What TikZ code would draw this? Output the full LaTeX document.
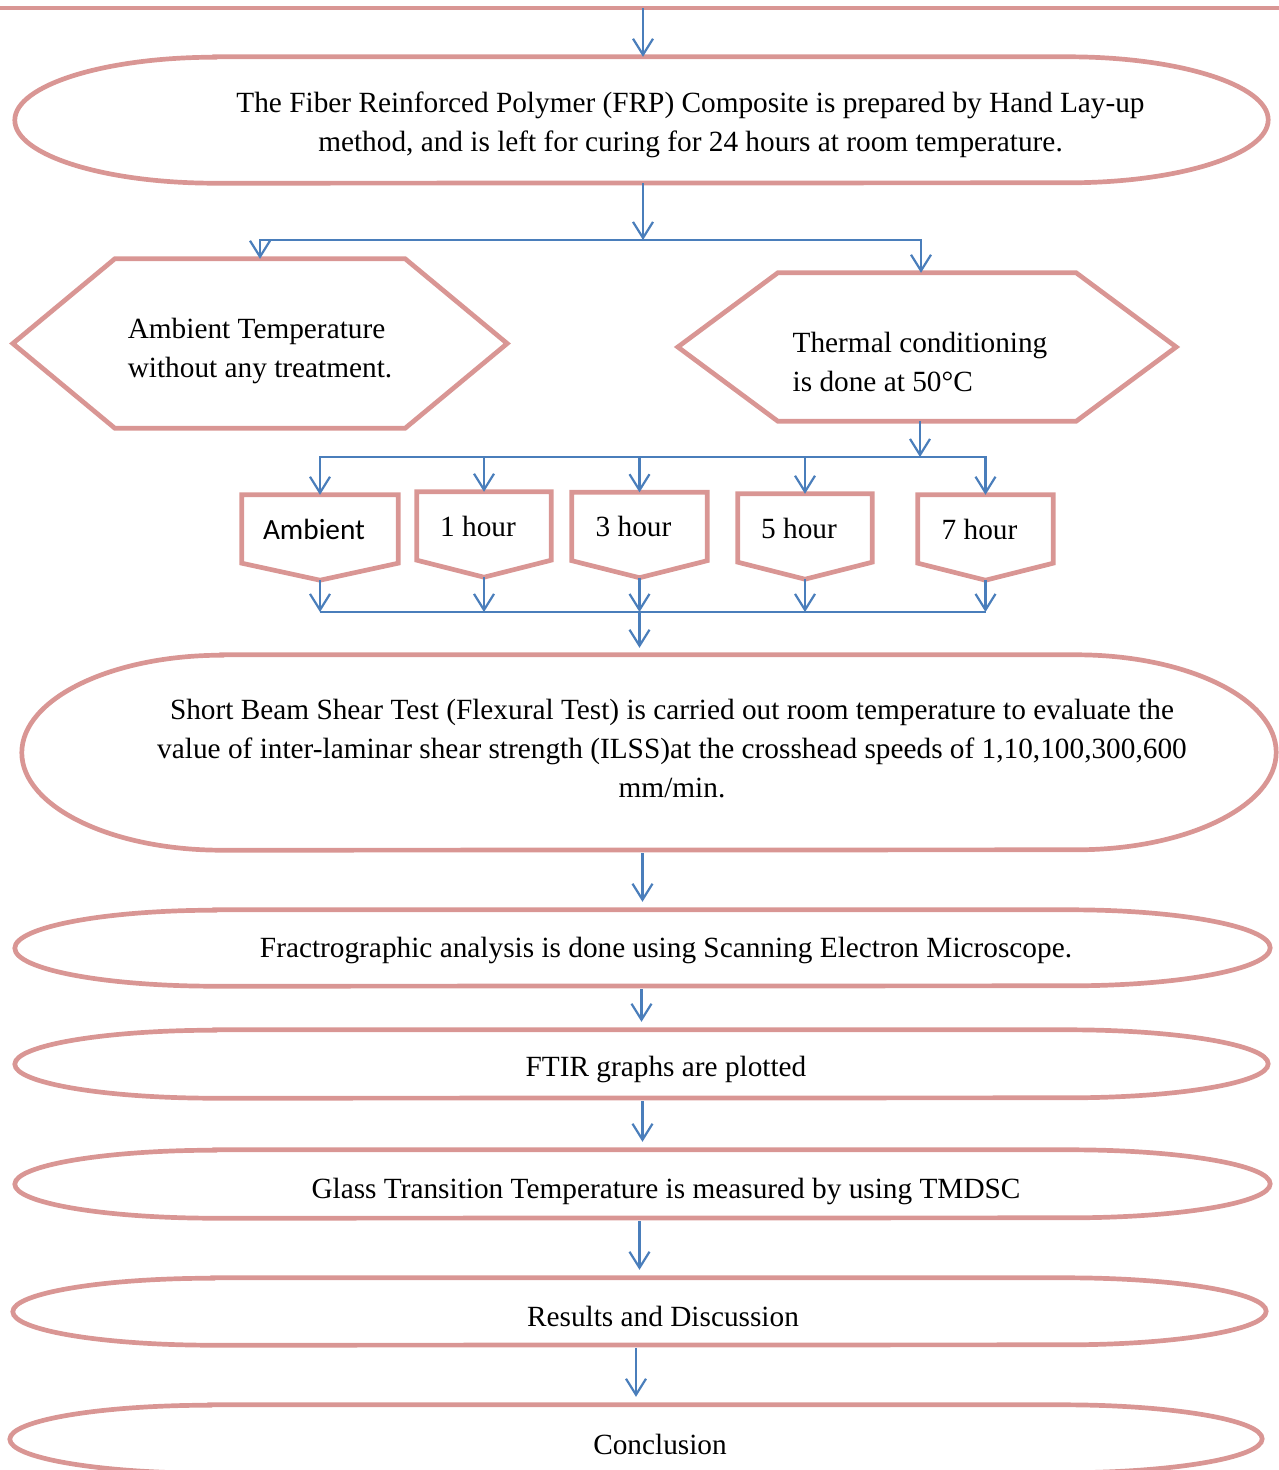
\documentclass[tikz,border=0pt]{standalone}
\usepackage{fontspec}
\setmainfont{Liberation Serif}
\newfontfamily\calibri{Carlito}
\usetikzlibrary{arrows.meta, positioning, calc}
\definecolor{framepink}{RGB}{217,150,148}
\definecolor{linkblue}{RGB}{74,126,187}

% outlines drawn round the named nodes
\newcommand{\termframe}[2]{%
  \draw[frame] ([xshift=200pt]#1.north west) -- ([xshift=-200pt]#1.north east)
    arc[start angle=90, end angle=-90, x radius=200pt, y radius=#2pt]
    -- ([xshift=200pt]#1.south west)
    arc[start angle=270, end angle=90, x radius=200pt, y radius=#2pt] -- cycle;}
\newcommand{\hexframe}[2]{%
  \draw[frame] (#1.west) -- ([xshift=#2pt]#1.north west) -- ([xshift=-#2pt]#1.north east)
    -- (#1.east) -- ([xshift=-#2pt]#1.south east) -- ([xshift=#2pt]#1.south west) -- cycle;}
\newcommand{\tagframe}[1]{%
  \draw[frame] (#1.north west) -- (#1.north east) -- (#1.south east)
    -- ([yshift=-17pt]#1.south) -- (#1.south west) -- cycle;}

\begin{document}
\begin{tikzpicture}[
      x=1pt, y=1pt,
      every node/.style={font=\fontsize{29.3}{39}\selectfont, inner sep=0pt},
      frame/.style={draw=framepink, line width=4.7pt},
      term/.style={minimum width=1253pt},
      tagbox/.style={minimum height=68pt, execute at begin node={\hspace*{-12pt}}},
      txt/.style={align=center},
      hextxt/.style={align=left},
      line/.style={draw=linkblue, line width=2.2pt, -{Straight Barb[length=16pt, width=20pt]}},
      wire/.style={draw=linkblue, line width=2.2pt}
  ]
      \useasboundingbox (0,0) rectangle (1279,-1470);

      % Top: edge of the step before
      \coordinate (prev) at (643,-8);
      \draw[frame] (-10,-8) -- (1290,-8);

      % Preparation
      \node [term, minimum height=126pt] (frp) at (641.5,-120) {};
      \node [txt] (frptxt) at (690.5,-124.5) {The Fiber Reinforced Polymer (FRP) Composite is prepared by Hand Lay-up\\method, and is left for curing for 24 hours at room temperature.};
      \termframe{frp}{63}

      % Conditioning
      \node [minimum width=494pt, minimum height=169pt] (amb) at (260,-343.5) {};
      \node [hextxt] (ambtxt) at (260,-350.5) {Ambient Temperature\\without any treatment.};
      \node [minimum width=498pt, minimum height=148pt] (therm) at (927,-347) {};
      \node [hextxt] (thermtxt) at (920,-362) {Thermal conditioning\\is done at 50°C};
      \hexframe{amb}{102}
      \hexframe{therm}{100}

      % Durations
      \node [tagbox, minimum width=156pt, font=\calibri\fontsize{29.3}{39}\selectfont] (t0) at (320,-529) {Ambient};
      \node [tagbox, minimum width=134pt] (t1) at (484,-526) {1 hour};
      \node [tagbox, minimum width=135pt] (t3) at (639.5,-526.5) {3 hour};
      \node [tagbox, minimum width=134pt] (t5) at (805,-528) {5 hour};
      \node [tagbox, minimum width=135pt] (t7) at (985.5,-529) {7 hour};
      \foreach \n in {t0,t1,t3,t5,t7} \tagframe{\n};

      % Tests and results
      \node [term, minimum width=1254pt, minimum height=195pt] (sbs) at (649,-752.5) {};
      \node [txt] (sbstxt) at (672,-749) {Short Beam Shear Test (Flexural Test) is carried out room temperature to evaluate the\\value of inter-laminar shear strength (ILSS)at the crosshead speeds of 1,10,100,300,600\\mm/min.};
      \termframe{sbs}{97.5}

      \node [term, minimum width=1255pt, minimum height=76pt] (fracto) at (642.5,-948) {};
      \node [txt] (fractotxt) at (666,-950) {Fractrographic analysis is done using Scanning Electron Microscope.};
      \termframe{fracto}{38}

      \node [term, minimum height=68pt] (ftir) at (641.5,-1064) {};
      \node [txt] (ftirtxt) at (666,-1069) {FTIR graphs are plotted};
      \termframe{ftir}{34}

      \node [term, minimum width=1255pt, minimum height=68pt] (tg) at (642.5,-1184) {};
      \node [txt] (tgtxt) at (666,-1191) {Glass Transition Temperature is measured by using TMDSC};
      \termframe{tg}{34}

      \node [term, minimum height=67pt] (res) at (639.5,-1311.5) {};
      \node [txt] (restxt) at (663,-1316) {Results and Discussion};
      \termframe{res}{33.5}

      \node [term, minimum width=1252pt, minimum height=68pt] (concl) at (636,-1439) {};
      \node [txt] (concltxt) at (660,-1444) {Conclusion};
      \termframe{concl}{34}

      % Connections
      \path [line] (prev) -- (prev |- frp.north);
      \coordinate (split1) at (643,-240);
      \path [line] (frp.south -| split1) -- (split1);
      \path [line] (split1) -| (amb.north);
      \path [line] (split1) -| ([xshift=-6pt]therm.north);

      \coordinate (split2) at (920,-457);
      \path [line] (therm.south -| split2) -- (split2);
      \foreach \n in {t0,t1,t3,t5,t7} \path [line] (split2) -| (\n.north);

      \coordinate (join) at (t3.south |- 0,-612);
      \foreach \n in {t0,t1,t3,t5,t7} \path [line] ([yshift=-17pt]\n.south) -- (\n.south |- join);
      \path [wire] (t0.south |- join) -- (t7.south |- join);
      \path [line, shorten >=7pt] (join) -- (join |- sbs.north);

      \foreach \a/\b in {sbs/fracto, fracto/ftir, ftir/tg, tg/res, res/concl}
        \path [line, shorten <=3pt, shorten >=8pt] (\a.south -| \b.north) -- (\b.north);
  \end{tikzpicture}
\end{document}
